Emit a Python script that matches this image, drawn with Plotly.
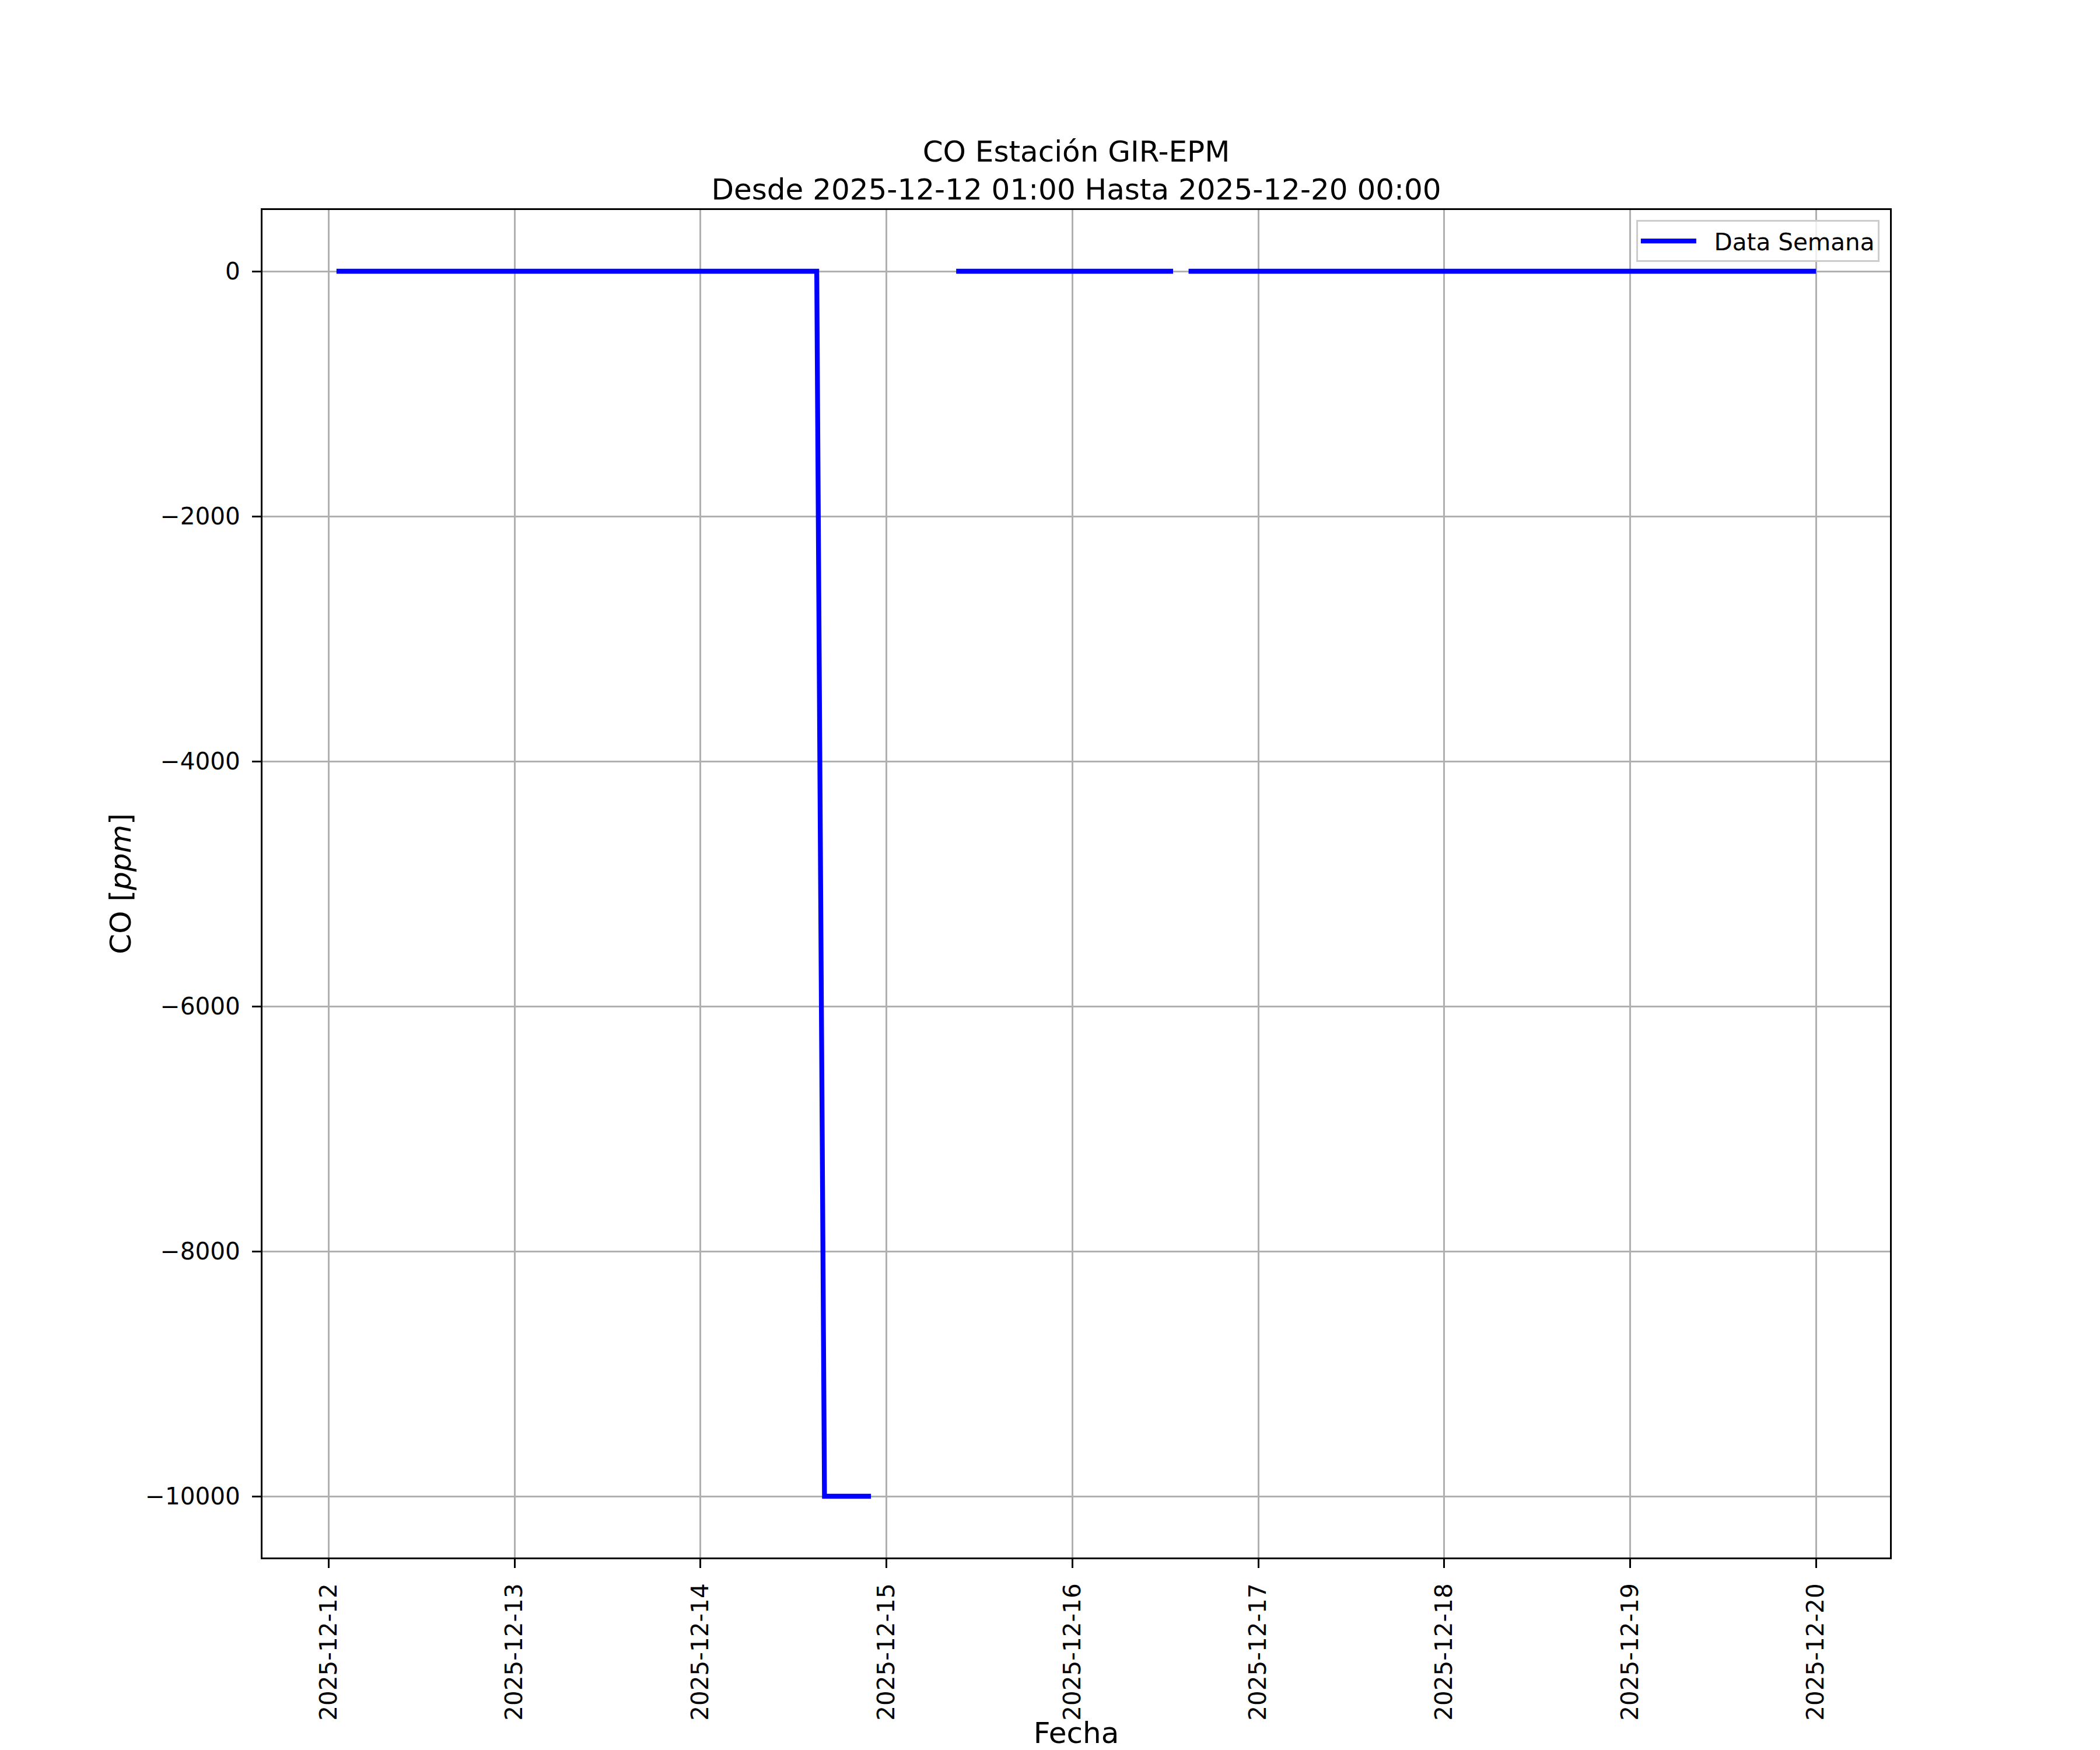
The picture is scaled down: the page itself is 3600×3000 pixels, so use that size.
import pandas as pd
import plotly.graph_objects as go

# Vertices of the hourly CO series (None = missing data)
times = ["2025-12-12 01:00", "2025-12-14 15:00", "2025-12-14 16:00", "2025-12-14 22:00",
         "2025-12-14 23:00", "2025-12-15 09:00", "2025-12-16 13:00", "2025-12-16 14:00",
         "2025-12-16 15:00", "2025-12-20 00:00"]
co_values = [0, 0, -10000, -10000, None, 0, 0, None, 0, 0]

x_tick_vals = ["2025-12-12", "2025-12-13", "2025-12-14", "2025-12-15", "2025-12-16",
               "2025-12-17", "2025-12-18", "2025-12-19", "2025-12-20"]
x_tick_text = x_tick_vals
y_tick_vals = [-10000, -8000, -6000, -4000, -2000, 0]
y_tick_text = ["\u221210000", "\u22128000", "\u22126000", "\u22124000", "\u22122000", "0"]

t = pd.to_datetime(times)
span = t.max() - t.min()
x_range = [t.min() - 0.05 * span, t.max() + 0.05 * span]
ymin, ymax = -10000, 0
yspan = ymax - ymin
y_range = [ymin - 0.05 * yspan, ymax + 0.05 * yspan]

FONT = "DejaVu Sans"
# page has an 8px body margin; compensate so the figure fills the 3600x3000 window
W, H = 3592, 2992

fig = go.Figure()
fig.add_trace(go.Scatter(
    x=t, y=co_values, mode="lines", name="\u00a0\u00a0Data Semana",
    line=dict(color="#0000ff", width=8.3), connectgaps=False,
))

fig.update_layout(
    width=W, height=H,
    paper_bgcolor="white", plot_bgcolor="white",
    margin=dict(l=442, r=360, t=352, b=330, autoexpand=False),
    font=dict(family=FONT, color="black", size=40.5),
    title=dict(
        text="CO Estación GIR-EPM<br>Desde 2025-12-12 01:00 Hasta 2025-12-20 00:00",
        x=0.5, xref="paper", xanchor="center",
        y=1 - 269 / H, yref="container", yanchor="top",
        font=dict(family=FONT, size=50, color="black"),
    ),
    showlegend=True,
    legend=dict(
        x=0.9935, xanchor="right", y=0.9925, yanchor="top",
        bgcolor="rgba(255,255,255,0.8)", bordercolor="#cccccc", borderwidth=3,
        itemwidth=95,
        font=dict(family=FONT, size=40.5, color="black"),
    ),
)

fig.update_xaxes(
    type="date", range=x_range,
    tickmode="array", tickvals=x_tick_vals, ticktext=x_tick_text, tickangle=-90,
    ticks="outside", ticklen=15, tickwidth=3.3, tickcolor="black",
    ticklabelstandoff=10,
    showgrid=True, gridcolor="#b0b0b0", gridwidth=3.3,
    showline=True, linecolor="black", linewidth=3.3, mirror=True,
    zeroline=False,
    tickfont=dict(family=FONT, size=40.5, color="black"),
    title=dict(text="Fecha", font=dict(family=FONT, size=50, color="black"), standoff=25),
)
fig.update_yaxes(
    range=y_range,
    tickmode="array", tickvals=y_tick_vals, ticktext=y_tick_text,
    ticks="outside", ticklen=15, tickwidth=3.3, tickcolor="black",
    ticklabelstandoff=12,
    showgrid=True, gridcolor="#b0b0b0", gridwidth=3.3,
    showline=True, linecolor="black", linewidth=3.3, mirror=True,
    zeroline=False,
    tickfont=dict(family=FONT, size=40.5, color="black"),
    title=dict(text="CO [<i>ppm</i>]", font=dict(family=FONT, size=50, color="black"), standoff=9),
)

fig.write_html("out.html")
